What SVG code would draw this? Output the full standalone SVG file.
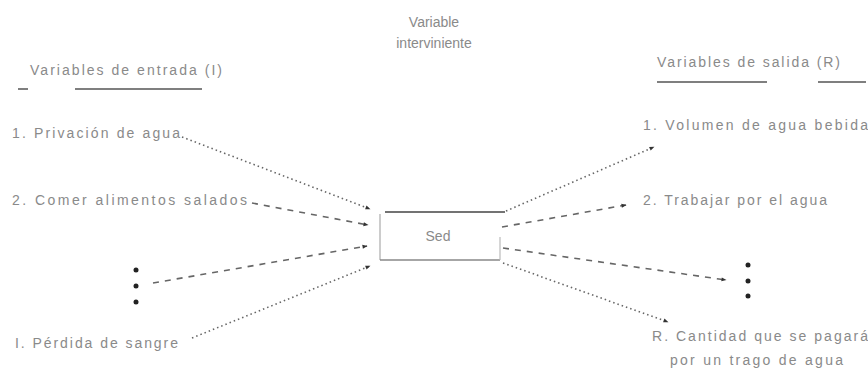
<svg xmlns="http://www.w3.org/2000/svg" width="868" height="371" viewBox="0 0 868 371">
<style>
text{font-family:"Liberation Sans",Arial,sans-serif;font-size:14px;fill:#8a8a8a}
.dot{stroke:#666;stroke-width:1.6;fill:none;stroke-dasharray:1.5 3}
.dash{stroke:#666;stroke-width:1.6;fill:none;stroke-dasharray:6 6}
.ul{stroke:#555;stroke-width:1.5}
.bd{fill:#222}
</style>
<defs>
<marker id="ah" viewBox="0 0 10 10" refX="9" refY="5" markerWidth="7" markerHeight="5" orient="auto" markerUnits="userSpaceOnUse">
<path d="M0,1 L10,5 L0,9 Z" fill="#333"/>
</marker>
</defs>
<g id="headers">
<text x="434" y="27" text-anchor="middle">Variable</text>
<text x="434" y="48" text-anchor="middle">interviniente</text>
<text x="30" y="75" textLength="192" lengthAdjust="spacing">Variables de entrada (I)</text>
<line class="ul" x1="18" y1="89" x2="28" y2="89"/>
<line class="ul" x1="75" y1="89" x2="202" y2="89"/>
<text x="657" y="67" textLength="183" lengthAdjust="spacing">Variables de salida (R)</text>
<line class="ul" x1="657" y1="82" x2="767" y2="82"/>
<line class="ul" x1="818" y1="82" x2="866" y2="82"/>
</g>
<g id="in1"><text x="12" y="138" textLength="168" lengthAdjust="spacing">1. Privación de agua</text></g>
<g id="in2"><text x="12" y="205" textLength="235" lengthAdjust="spacing">2. Comer alimentos salados</text></g>
<g id="in-dots"><circle class="bd" cx="136" cy="270" r="2.5"/><circle class="bd" cx="136" cy="286" r="2.5"/><circle class="bd" cx="136" cy="302" r="2.5"/></g>
<g id="inI"><text x="15" y="348" textLength="163" lengthAdjust="spacing">I. Pérdida de sangre</text></g>
<g id="sed">
<line x1="385" y1="212" x2="505" y2="212" stroke="#444" stroke-width="1.6"/>
<line x1="380" y1="214" x2="380" y2="260" stroke="#aaa" stroke-width="1.2"/>
<line x1="380" y1="260" x2="500" y2="260" stroke="#888" stroke-width="1.4"/>
<line x1="500" y1="237" x2="500" y2="260" stroke="#bbb" stroke-width="1.2"/>
<text x="438" y="241" text-anchor="middle">Sed</text>
</g>
<g id="out1"><text x="643" y="130" textLength="225" lengthAdjust="spacing">1. Volumen de agua bebida</text></g>
<g id="out2"><text x="643" y="205" textLength="184" lengthAdjust="spacing">2. Trabajar por el agua</text></g>
<g id="out-dots"><circle class="bd" cx="748" cy="265" r="2.5"/><circle class="bd" cx="748" cy="281" r="2.5"/><circle class="bd" cx="748" cy="296" r="2.5"/></g>
<g id="outR"><text x="652" y="341" textLength="216" lengthAdjust="spacing">R. Cantidad que se pagará</text><text x="670" y="365" textLength="173" lengthAdjust="spacing">por un trago de agua</text></g>
<g id="connectors">
<line class="dot" x1="182" y1="137" x2="370" y2="209" marker-end="url(#ah)"/>
<line class="dash" x1="252" y1="203" x2="368" y2="225" marker-end="url(#ah)"/>
<line class="dash" x1="153" y1="283" x2="367" y2="246" marker-end="url(#ah)"/>
<line class="dot" x1="192" y1="338" x2="370" y2="266" marker-end="url(#ah)"/>
<line class="dot" x1="506" y1="211" x2="654" y2="147" marker-end="url(#ah)"/>
<line class="dash" x1="502" y1="227" x2="626" y2="205" marker-end="url(#ah)"/>
<line class="dash" x1="503" y1="248" x2="726" y2="280" marker-end="url(#ah)"/>
<line class="dot" x1="503" y1="263" x2="668" y2="322" marker-end="url(#ah)"/>
</g>
</svg>
